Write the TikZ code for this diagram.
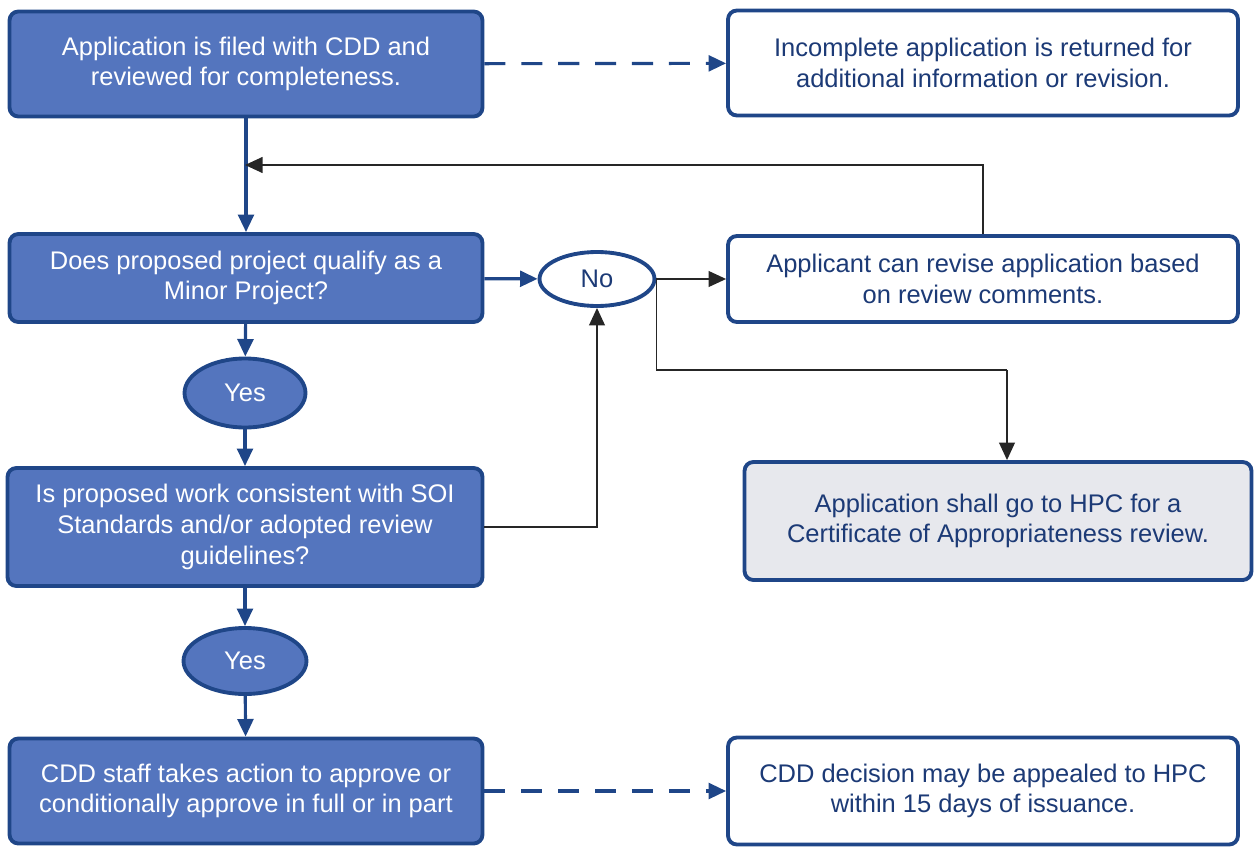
\documentclass[tikz,border=0pt]{standalone}
\usepackage{fontspec}
\setmainfont{Liberation Sans}
\usetikzlibrary{arrows.meta,shapes.geometric}

\definecolor{boxblue}{RGB}{84,117,190}
\definecolor{edgeblue}{RGB}{31,70,136}
\definecolor{textblue}{RGB}{28,58,118}
\definecolor{palegray}{RGB}{231,232,237}

\tikzset{
  basebox/.style={rectangle, rounded corners=5pt, draw=edgeblue, line width=2.2pt,
    align=center, inner sep=0pt, font=\fontsize{14.5}{17.5}\selectfont},
  bluebox/.style={basebox, fill=boxblue, text=white},
  whitebox/.style={basebox, fill=white, text=textblue},
  graybox/.style={basebox, fill=palegray, text=textblue},
  answer/.style={ellipse, draw=edgeblue, line width=2.2pt, inner sep=0pt,
    font=\fontsize{14.5}{17.5}\selectfont},
  flow/.style={draw=edgeblue, line width=1.8pt, -{Triangle[length=10pt,width=9pt]}},
  dashflow/.style={flow, dash pattern=on 12pt off 9pt},
  back/.style={draw=black!85, line width=1pt, -{Triangle[length=10pt,width=9pt]}}
}

\begin{document}
\begin{tikzpicture}[x=0.02cm,y=-0.02cm]
  \useasboundingbox (0,0) rectangle (1254,848);

  % Left column of steps
  \node[bluebox, minimum width=9.46cm, minimum height=2.1cm] (appl) at (246,64)
    {Application is filed with CDD and\\reviewed for completeness.};
  \node[bluebox, minimum width=9.46cm, minimum height=1.76cm] (minor) at (246,278)
    {Does proposed project qualify as a\\Minor Project?};
  \node[answer, fill=boxblue, text=white, minimum width=2.42cm, minimum height=1.38cm] (yesa) at (245,393) {Yes};
  \node[bluebox, minimum width=9.5cm, minimum height=2.36cm] (consist) at (245,527)
    {Is proposed work consistent with SOI\\Standards and/or adopted review\\guidelines?};
  \node[answer, fill=boxblue, text=white, minimum width=2.46cm, minimum height=1.32cm] (yesb) at (245,661) {Yes};
  \node[bluebox, minimum width=9.46cm, minimum height=2.1cm] (action) at (246,791)
    {CDD staff takes action to approve or\\conditionally approve in full or in part};

  % Right column of outcomes
  \node[whitebox, minimum width=10.2cm, minimum height=2.1cm] (incomplete) at (983,63)
    {Incomplete application is returned for\\additional information or revision.};
  \node[answer, fill=white, text=textblue, minimum width=2.3cm, minimum height=1.08cm] (no) at (597,279) {No};
  \node[whitebox, minimum width=10.2cm, minimum height=1.72cm] (revise) at (983,279)
    {Applicant can revise application based\\on review comments.};
  \node[graybox, minimum width=10.14cm, minimum height=2.36cm] (hpc) at (998,521)
    {Application shall go to HPC for a\\Certificate of Appropriateness review.};
  \node[whitebox, minimum width=10.2cm, minimum height=2.14cm] (appeal) at (983,791)
    {CDD decision may be appealed to HPC\\within 15 days of issuance.};

  % Connectors
  \coordinate (rejoin) at (245,165);
  \coordinate (drop) at (1007,370);
  \draw[flow] (appl) -- (minor);
  \draw[flow] (minor) -- (yesa);
  \draw[flow] (yesa) -- (consist);
  \draw[flow] (consist) -- (yesb);
  \draw[flow] (yesb) -- (action);
  \draw[flow] (minor) -- (no);
  \draw[dashflow] (appl) -- (incomplete);
  \draw[dashflow] (action) -- (appeal);
  \draw[back] (no) -- (revise);
  \draw[back] (revise.north) |- (rejoin);
  \draw[back, -] (no.east) |- (drop);
  \draw[back] (drop) -- (drop |- hpc.north);
  \draw[back] (consist.east) -| (no.south);
\end{tikzpicture}
\end{document}
